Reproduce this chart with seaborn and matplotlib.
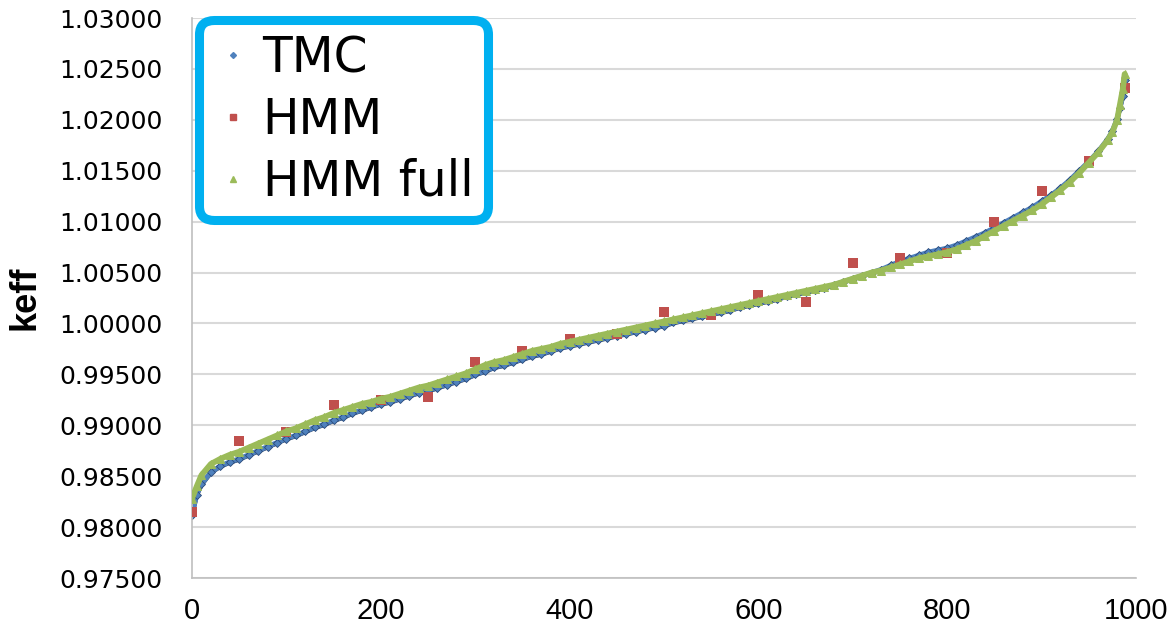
import matplotlib
matplotlib.use("Agg")
import matplotlib.pyplot as plt
from matplotlib.lines import Line2D
import seaborn as sns
import pandas as pd

idx = [0, 5, 10, 20, 30, 40, 50, 60, 70, 80, 90, 100, 110, 120, 130, 140, 150,
       160, 170, 180, 190, 200, 210, 220, 230, 240, 250, 260, 270, 280, 290,
       300, 310, 320, 330, 340, 350, 360, 370, 380, 390, 400, 410, 420, 430,
       440, 450, 460, 470, 480, 490, 500, 510, 520, 530, 540, 550, 560, 570,
       580, 590, 600, 610, 620, 630, 640, 650, 660, 670, 680, 690, 700, 710,
       720, 730, 740, 750, 760, 770, 780, 790, 800, 810, 820, 830, 840, 850,
       860, 870, 880, 890, 900, 910, 920, 930, 940, 950, 960, 970, 975, 980,
       983, 986, 988]

tmc = [0.9812, 0.9832, 0.9842, 0.9854, 0.9860, 0.9864, 0.9867, 0.9871, 0.9875,
       0.9879, 0.9883, 0.9887, 0.9890, 0.9894, 0.9898, 0.9901, 0.9905, 0.9908,
       0.9912, 0.9915, 0.9918, 0.9921, 0.9923, 0.9926, 0.9929, 0.9932, 0.9934,
       0.9937, 0.9940, 0.9943, 0.9946, 0.9950, 0.9953, 0.9957, 0.9959, 0.9962,
       0.9965, 0.9968, 0.9970, 0.9973, 0.9976, 0.9978, 0.9980, 0.9982, 0.9984,
       0.9986, 0.9988, 0.9990, 0.9992, 0.9994, 0.9996, 0.9998, 1.0001, 1.0003,
       1.0005, 1.0007, 1.0009, 1.0011, 1.0013, 1.0016, 1.0018, 1.0020, 1.0022,
       1.0024, 1.0027, 1.0029, 1.0031, 1.0033, 1.0035, 1.0038, 1.0041, 1.0044,
       1.0047, 1.0050, 1.0053, 1.0057, 1.0061, 1.0064, 1.0067, 1.0070, 1.0072,
       1.0074, 1.0077, 1.0081, 1.0085, 1.0089, 1.0094, 1.0099, 1.0104, 1.0109,
       1.0114, 1.0120, 1.0126, 1.0133, 1.0141, 1.0150, 1.0159, 1.0169, 1.0181,
       1.0189, 1.0201, 1.0212, 1.0223, 1.0239]

hmm_full = [0.9828, 0.9840, 0.9851, 0.9862, 0.9867, 0.9871, 0.9874, 0.9878,
            0.9882, 0.9886, 0.9890, 0.9894, 0.9897, 0.9901, 0.9905, 0.9908,
            0.9912, 0.9915, 0.9918, 0.9921, 0.9923, 0.9926, 0.9928, 0.9931,
            0.9934, 0.9937, 0.9939, 0.9942, 0.9945, 0.9948, 0.9951, 0.9955,
            0.9959, 0.9962, 0.9964, 0.9967, 0.9970, 0.9973, 0.9975, 0.9977,
            0.9980, 0.9982, 0.9984, 0.9986, 0.9988, 0.9990, 0.9992, 0.9994,
            0.9996, 0.9998, 1.0000, 1.0002, 1.0004, 1.0006, 1.0008, 1.0010,
            1.0012, 1.0014, 1.0016, 1.0018, 1.0020, 1.0022, 1.0024, 1.0026,
            1.0028, 1.0030, 1.0032, 1.0034, 1.0036, 1.0038, 1.0041, 1.0044,
            1.0047, 1.0050, 1.0052, 1.0055, 1.0058, 1.0061, 1.0064, 1.0066,
            1.0068, 1.0070, 1.0073, 1.0077, 1.0081, 1.0086, 1.0091, 1.0096,
            1.0101, 1.0106, 1.0111, 1.0117, 1.0124, 1.0131, 1.0139, 1.0148,
            1.0158, 1.0168, 1.0180, 1.0188, 1.0200, 1.0215, 1.0230, 1.0245]

# HMM reduced set: every 50th run
hmm_idx = [0, 50, 100, 150, 200, 250, 300, 350, 400, 450, 500, 550, 600, 650,
           700, 750, 800, 850, 900, 950, 988]
hmm = [0.9815, 0.9885, 0.9893, 0.9920, 0.9925, 0.9928, 0.9962, 0.9973, 0.9985,
       0.9990, 1.0011, 1.0008, 1.0028, 1.0021, 1.0059, 1.0064, 1.0069, 1.0100,
       1.0130, 1.0160, 1.0231]

yticks = [0.975, 0.98, 0.985, 0.99, 0.995, 1.0, 1.005, 1.01, 1.015, 1.02, 1.025, 1.03]
xticks = [0, 200, 400, 600, 800, 1000]

blue = "#4F81BD"
red = "#C0504D"
green = "#9BBB59"

sns.set_style("white")
plt.rcParams["font.family"] = ["DejaVu Sans"]
plt.rcParams["text.color"] = "black"

df_tmc = pd.DataFrame({"run": idx, "keff": tmc})
df_full = pd.DataFrame({"run": idx, "keff": hmm_full})
df_hmm = pd.DataFrame({"run": hmm_idx, "keff": hmm})

fig = plt.figure(figsize=(11.68, 6.28), dpi=100)
ax = fig.add_axes([0.1644, 0.0796, 0.8082, 0.8917])

# TMC: dense small diamonds, dark outline underneath
ax.plot(df_tmc["run"], df_tmc["keff"] - 0.00006, color="#1f2f4f", lw=3.2,
        zorder=1, solid_capstyle="round")
sns.lineplot(data=df_tmc, x="run", y="keff", ax=ax, color=blue, lw=3.6,
             marker="D", markersize=4, markeredgecolor="#2a4a7a",
             markeredgewidth=0.6, zorder=2, sort=False)

# HMM: red squares
sns.scatterplot(data=df_hmm, x="run", y="keff", ax=ax, color=red, marker="s",
                s=45, edgecolor=red, linewidth=0, zorder=3)

# HMM full: green triangles
sns.lineplot(data=df_full, x="run", y="keff", ax=ax, color=green, lw=4.2,
             marker="^", markersize=6, markeredgecolor=green, zorder=4,
             sort=False)

ax.set_xlim(0, 1000)
ax.set_ylim(0.975, 1.03)
ax.set_yticks(yticks)
ax.set_yticklabels([f"{v:.5f}" for v in yticks])
ax.set_xticks(xticks)
ax.set_xticklabels([str(v) for v in xticks], family=["Liberation Sans Narrow", "Liberation Sans", "DejaVu Sans"])
ax.tick_params(axis="y", labelsize=18, length=0, pad=21, labelcolor="black")
ax.tick_params(axis="x", labelsize=21, length=0, pad=14, labelcolor="black")
ax.yaxis.grid(True, color="#d9d9d9", lw=1.5)
ax.xaxis.grid(False)
for side in ["top", "right"]:
    ax.spines[side].set_visible(False)
for side in ["left", "bottom"]:
    ax.spines[side].set_color("#bfbfbf")
    ax.spines[side].set_linewidth(1.2)

ax.set_xlabel("")
ax.set_ylabel("keff", fontsize=26, fontweight="bold", color="black",
              family=["Liberation Sans Narrow", "Liberation Sans", "DejaVu Sans"])
ax.yaxis.set_label_coords(-0.158, 0.5)

handles = [
    Line2D([], [], ls="none", marker="D", color=blue, markersize=3),
    Line2D([], [], ls="none", marker="s", color=red, markersize=5),
    Line2D([], [], ls="none", marker="^", color=green, markersize=4),
]
leg = ax.legend(handles, ["TMC", "HMM", "HMM full"], loc="upper left",
                bbox_to_anchor=(0.0, 1.01), fontsize=35, frameon=True,
                fancybox=True, framealpha=1, handlelength=0.8,
                handletextpad=0.2, labelspacing=0.28, borderpad=0.25,
                borderaxespad=0.2)
leg.get_frame().set_edgecolor("#00B0F0")
leg.get_frame().set_linewidth(6.5)
leg.get_frame().set_boxstyle("round,pad=0.05,rounding_size=0.3")

fig.savefig("out.png", dpi=100)
